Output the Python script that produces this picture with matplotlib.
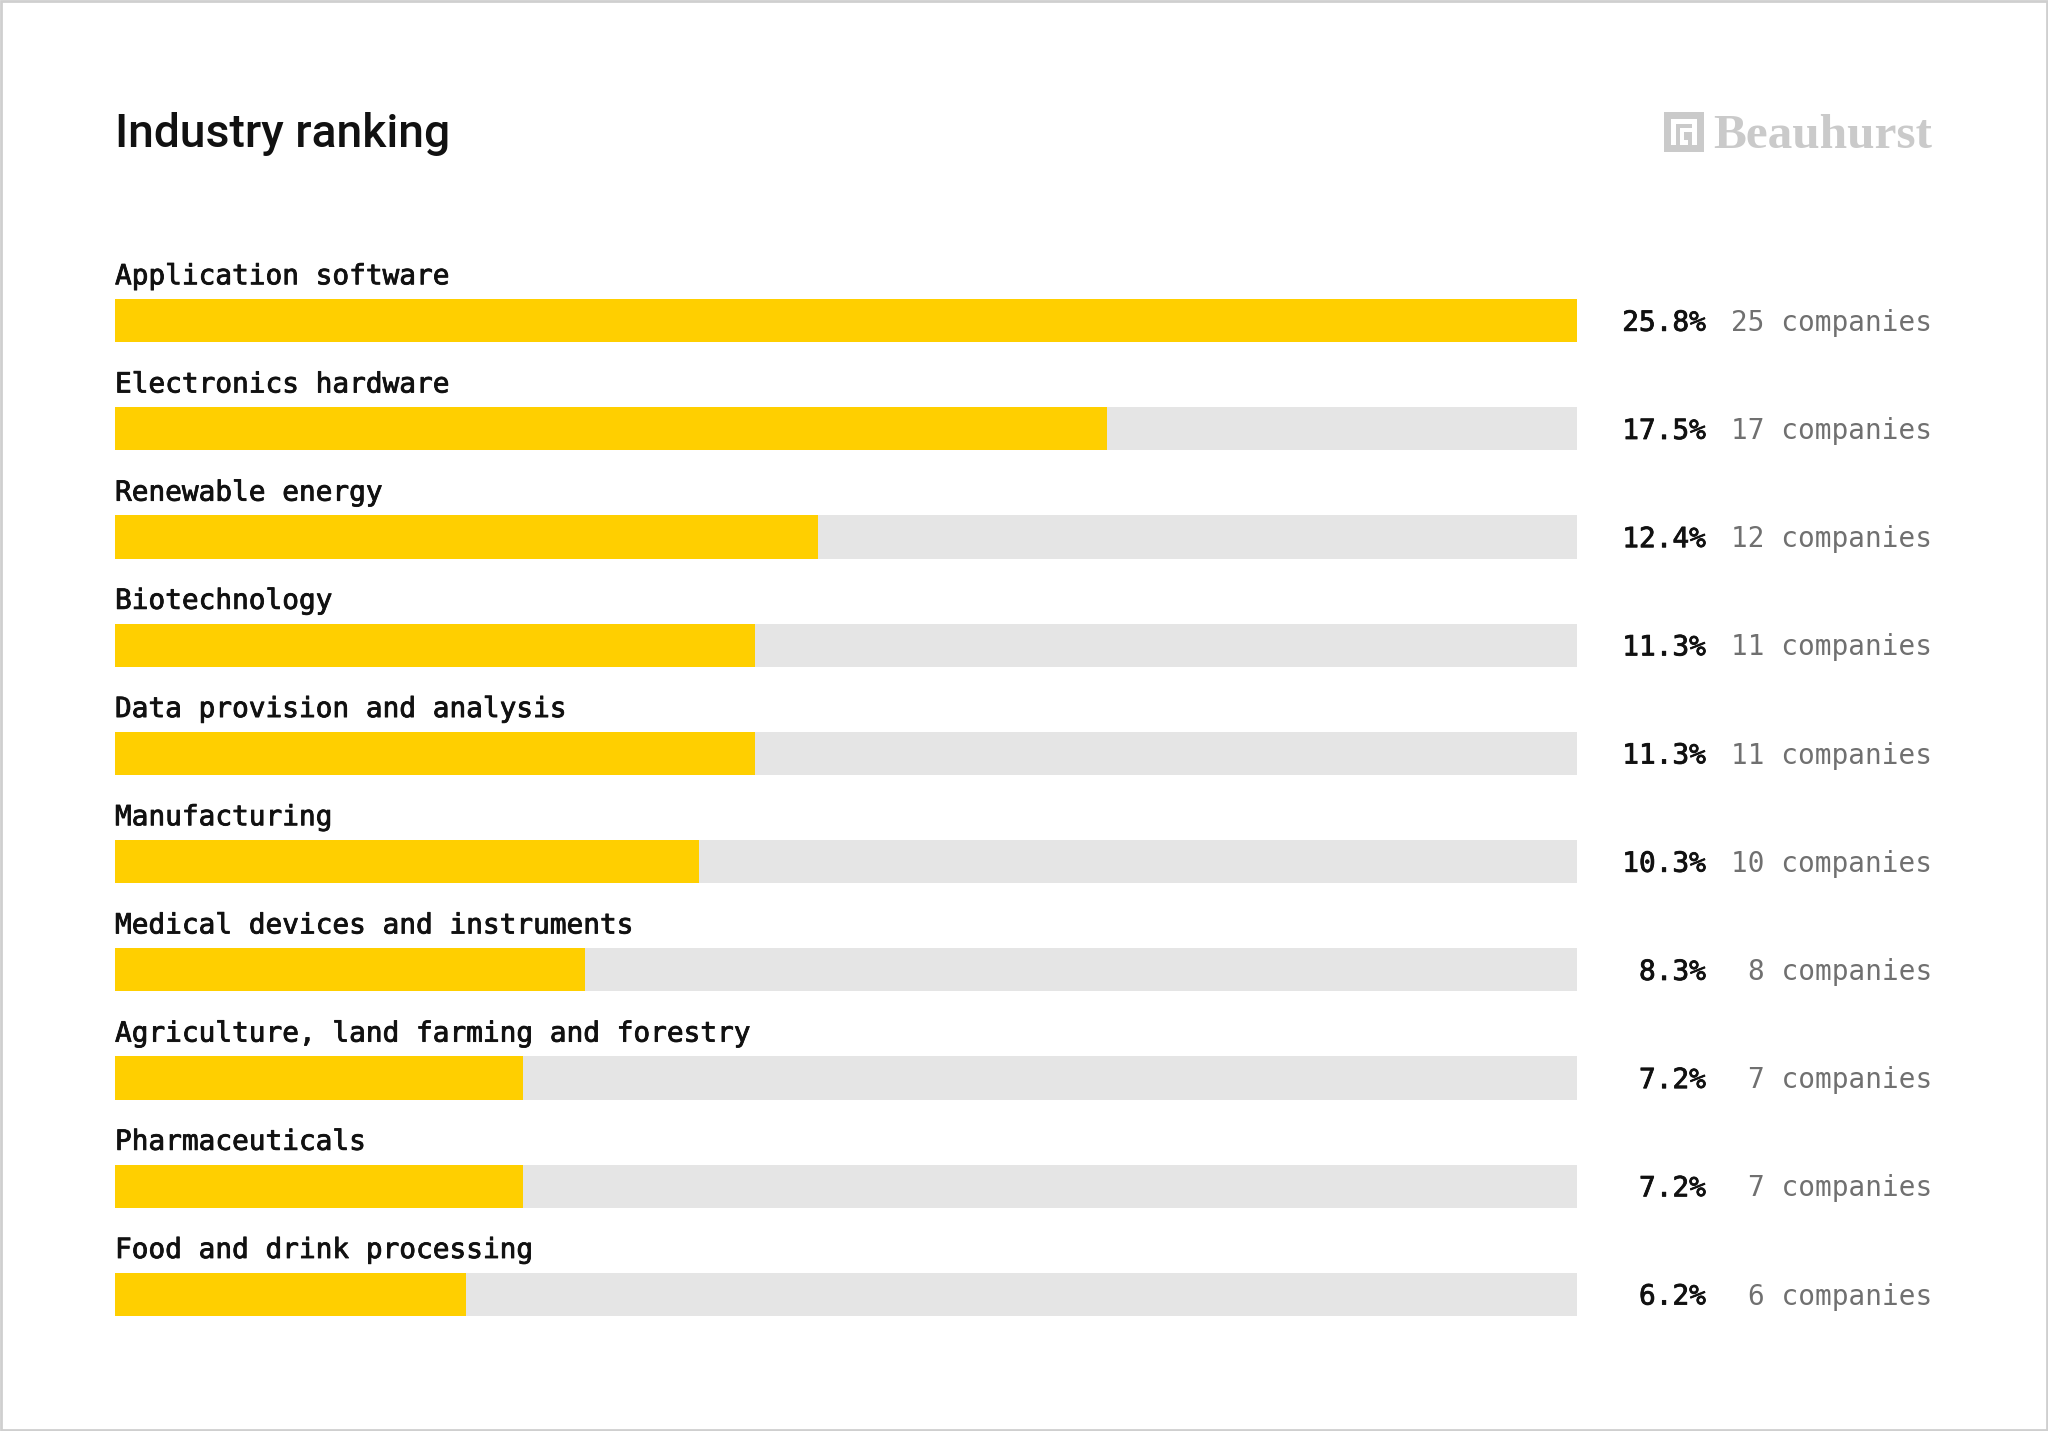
import matplotlib
matplotlib.use("Agg")
import matplotlib.pyplot as plt
import matplotlib.transforms as mtransforms
import matplotlib.patheffects as pe
from matplotlib.patches import Rectangle

# ---------------------------------------------------------------------------
# Data
# ---------------------------------------------------------------------------
industries = [
    "Application software",
    "Electronics hardware",
    "Renewable energy",
    "Biotechnology",
    "Data provision and analysis",
    "Manufacturing",
    "Medical devices and instruments",
    "Agriculture, land farming and forestry",
    "Pharmaceuticals",
    "Food and drink processing",
]
shares = [25.8, 17.5, 12.4, 11.3, 11.3, 10.3, 8.3, 7.2, 7.2, 6.2]
companies = [25, 17, 12, 11, 11, 10, 8, 7, 7, 6]

YELLOW = "#FFCF00"
TRACK = "#E5E5E5"
MONO = "DejaVu Sans Mono"
FS = 20
INK = "#111111"
medium = [pe.withStroke(linewidth=0.6, foreground=INK)]

W, H = 2048, 1431
fig = plt.figure(figsize=(W / 100, H / 100), dpi=100)
fig.patch.set_facecolor("white")

# outer frame
fig.patches.append(Rectangle((0.0005, 0.0007), 0.999, 0.9986, transform=fig.transFigure,
                             fill=False, edgecolor="#cfcfcf", linewidth=2))

# bar area in pixels
left, right = 115, 1577
top, bottom = 299, 1316
ax = fig.add_axes([left / W, 1 - bottom / H, (right - left) / W, (bottom - top) / H])

n = len(industries)
ypos = list(range(n))
xmax = max(shares)
bar_h = 0.4

ax.barh(ypos, [xmax] * n, height=bar_h, color=TRACK, linewidth=0)
ax.barh(ypos, shares, height=bar_h, color=YELLOW, linewidth=0)
ax.set_xlim(0, xmax)
ax.set_ylim(n - 1 + bar_h / 2, -bar_h / 2)
ax.axis("off")

trans = mtransforms.blended_transform_factory(ax.transAxes, ax.transData)
pct_x = (1706 - left) / (right - left)
cnt_x = (1932 - left) / (right - left)

for i, (name, s, c) in enumerate(zip(industries, shares, companies)):
    ax.text(0, i - 0.41, name, fontsize=FS, family=MONO, color=INK,
            ha="left", va="center", path_effects=medium)
    ax.text(pct_x, i + 0.02, f"{s:.1f}%", transform=trans, fontsize=FS, family=MONO,
            color=INK, ha="right", va="center", path_effects=medium)
    ax.text(cnt_x, i + 0.02, f"{c} companies", transform=trans, fontsize=FS, family=MONO,
            color="#707070", ha="right", va="center")

# title
fig.text(left / W, 1 - 134 / H, "Industry ranking", fontsize=33.3, family="Roboto",
         fontweight="medium", color=INK, ha="left", va="center")

# logo
fig.text(1932 / W, 1 - 136 / H, "Beauhurst", fontsize=35.5, family="Liberation Serif",
         fontweight="bold", color="#CACACA", ha="right", va="center")
icon = fig.add_axes([1664 / W, 1 - 152 / H, 40 / W, 40 / H])
icon.set_xlim(0, 10)
icon.set_ylim(0, 10)
icon.axis("off")
icon.add_patch(Rectangle((0, 0), 10, 10, color="#CACACA", linewidth=0))
lw = 1.1
for (x, y, w, h) in [(1.8, 1.8, lw, 6.4), (1.8, 7.1, 6.4, lw), (7.1, 1.8, lw, 6.4),
                     (4.0, 4.9, 4.2, lw), (4.0, 1.8, lw, 4.2), (4.0, 1.8, 2.0, lw)]:
    icon.add_patch(Rectangle((x, y), w, h, color="white", linewidth=0))

fig.savefig("out.png", dpi=100, facecolor="white")
